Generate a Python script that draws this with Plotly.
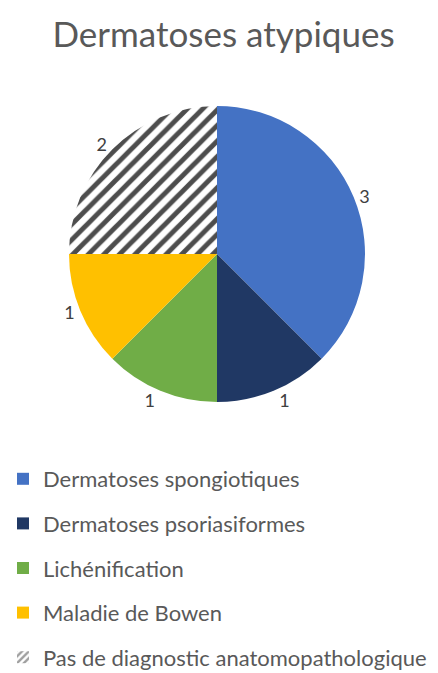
import plotly.graph_objects as go

title = "Dermatoses atypiques"
categories = ["Dermatoses spongiotiques", "Dermatoses psoriasiformes", "Lichénification",
              "Maladie de Bowen", "Pas de diagnostic anatomopathologique"]
values = [3, 1, 1, 1, 2]
colors = ["#4472C4", "#203864", "#70AD47", "#FFC000", "#FFFFFF"]
patterns = ["", "", "", "", "/"]

FONT = "Lato"
GRAY = "#595959"

W, H = 438, 673
# target centre (217, 254); plotly renders the pie ~8px right/down of the domain centre
cx, cy, r = 209, 246, 148

fig = go.Figure()
fig.add_trace(go.Pie(
    labels=categories, values=values, sort=False, direction="clockwise", rotation=0,
    marker=dict(colors=colors, line=dict(color="white", width=0),
                pattern=dict(shape=patterns, fgcolor="#4D4D4D", bgcolor="white",
                             size=11, solidity=0.45)),
    textinfo="value", textposition="outside",
    textfont=dict(family=FONT, size=18, color="#404040"),
    domain=dict(x=[(cx - r)/W, (cx + r)/W], y=[1 - (cy + r)/H, 1 - (cy - r)/H]),
    showlegend=False, hoverinfo="label+value", automargin=False,
))

# legend entries (one group each to control spacing)
for i, (cat, col, pat) in enumerate(zip(categories, colors, patterns)):
    fig.add_trace(go.Bar(
        x=[None], y=[None], name=cat, legendgroup=f"g{i}",
        marker=dict(color=col, line=dict(width=0),
                    pattern=dict(shape=pat, fgcolor="#404040", bgcolor="white",
                                 size=6, solidity=0.5)),
        showlegend=True,
    ))

fig.update_layout(
    width=W, height=H,
    margin=dict(l=0, r=0, t=0, b=0, autoexpand=False),
    paper_bgcolor="white", plot_bgcolor="white",
    title=dict(text=title, x=0.492, xanchor="center", y=1-27/H, yanchor="middle",
               font=dict(family=FONT, size=35, color=GRAY)),
    xaxis=dict(visible=False), yaxis=dict(visible=False),
    legend=dict(x=-5/W, xanchor="left", y=1-450/H, yanchor="top",
                font=dict(family=FONT, size=22, color=GRAY),
                tracegroupgap=13, traceorder="grouped", itemwidth=30),
    showlegend=True,
)

fig.write_html("out.html")
